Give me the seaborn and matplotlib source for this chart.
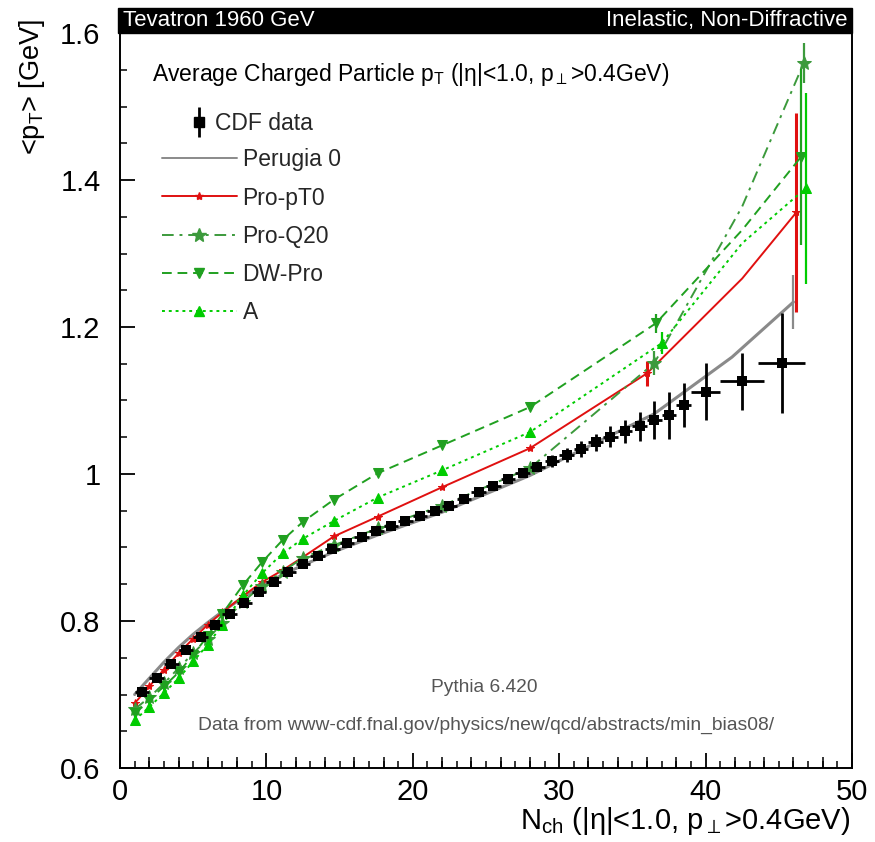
import numpy as np
import matplotlib
matplotlib.use("Agg")
import matplotlib.pyplot as plt
import seaborn as sns
from matplotlib.lines import Line2D
from matplotlib.patches import Rectangle
from matplotlib.ticker import MultipleLocator, FixedLocator, FuncFormatter

# ---------------- data ----------------
cdf_x = [1.5, 2.5, 3.5, 4.5, 5.5, 6.5, 7.5, 8.5, 9.5, 10.5, 11.5, 12.5, 13.5, 14.5,
         15.5, 16.5, 17.5, 18.5, 19.5, 20.5, 21.5, 22.5, 23.5, 24.5, 25.5, 26.5,
         27.5, 28.5, 29.5, 30.5, 31.5, 32.5, 33.5, 34.5, 35.5, 36.5, 37.5, 38.5,
         40.0, 42.5, 45.2]
cdf_xerr = [0.5] * 38 + [1.0, 1.5, 1.6]
cdf_y = [0.703, 0.722, 0.741, 0.760, 0.778, 0.795, 0.810, 0.825, 0.839, 0.853,
         0.866, 0.878, 0.888, 0.898, 0.906, 0.914, 0.922, 0.929, 0.936, 0.943,
         0.950, 0.957, 0.966, 0.975, 0.984, 0.993, 1.001, 1.010, 1.018, 1.026,
         1.034, 1.043, 1.051, 1.058, 1.065, 1.073, 1.080, 1.094, 1.112, 1.126, 1.151]
cdf_yerr = [0.004] * 25 + [0.005, 0.005, 0.006, 0.008, 0.009, 0.011, 0.012, 0.014,
                           0.016, 0.020, 0.026, 0.032, 0.030, 0.039, 0.039, 0.068]

perugia_x = [1, 2, 3, 4, 5, 6, 7, 8.4, 9.7, 11.1, 12.5, 14.6, 17.6, 22.0, 28.0, 36.5, 41.8, 46.0]
perugia_y = [0.700, 0.722, 0.744, 0.764, 0.782, 0.798, 0.813, 0.832, 0.848, 0.863,
             0.876, 0.894, 0.917, 0.948, 0.998, 1.082, 1.159, 1.234]
perugia_err = [0] * 17 + [0.037]

propt0_x = [1, 2, 3, 4, 5, 6, 7, 8.4, 9.7, 11.1, 12.5, 14.6, 17.6, 22.0, 28.0, 36.0, 42.5, 46.2]
propt0_y = [0.688, 0.711, 0.734, 0.756, 0.776, 0.795, 0.812, 0.834, 0.853, 0.869,
            0.887, 0.915, 0.942, 0.982, 1.035, 1.137, 1.266, 1.356]
propt0_err = [0] * 15 + [0.017, 0, 0.135]

proq20_x = [1, 2, 3, 4, 5, 6, 7, 8.4, 9.7, 11.1, 12.5, 14.6, 17.6, 22.0, 28.0, 36.5, 42.5, 46.7]
proq20_y = [0.680, 0.696, 0.715, 0.736, 0.756, 0.776, 0.797, 0.826, 0.848, 0.867,
            0.886, 0.903, 0.926, 0.957, 1.008, 1.151, 1.364, 1.559]
proq20_err = [0] * 15 + [0.016, 0, 0.027]

dwpro_x = [1, 2, 3, 4, 5, 6, 7, 8.4, 9.7, 11.1, 12.5, 14.6, 17.6, 22.0, 28.0, 36.6, 42.5, 46.5]
dwpro_y = [0.675, 0.693, 0.711, 0.730, 0.754, 0.780, 0.810, 0.849, 0.880, 0.910,
           0.935, 0.965, 1.001, 1.039, 1.091, 1.205, 1.332, 1.431]
dwpro_err = [0] * 15 + [0.013, 0, 0.12]

a_x = [1, 2, 3, 4, 5, 6, 7, 8.4, 9.7, 11.1, 12.5, 14.6, 17.6, 22.0, 28.0, 37.0, 42.5, 46.85]
a_y = [0.665, 0.683, 0.702, 0.722, 0.745, 0.768, 0.795, 0.835, 0.865, 0.892,
       0.912, 0.936, 0.968, 1.005, 1.057, 1.178, 1.314, 1.389]
a_err = [0] * 15 + [0.015, 0, 0.13]

y_ticks = [0.6, 0.8, 1.0, 1.2, 1.4, 1.6]
y_ticklabels = ["0.6", "0.8", "1", "1.2", "1.4", "1.6"]
x_ticks = [0, 10, 20, 30, 40, 50]

# ---------------- style ----------------
sns.set_theme(style="white")
plt.rcParams["font.family"] = ["Liberation Sans", "DejaVu Sans"]
plt.rcParams["mathtext.fontset"] = "custom"
plt.rcParams["mathtext.rm"] = "Liberation Sans"
plt.rcParams["mathtext.it"] = "Liberation Sans:italic"
plt.rcParams["mathtext.bf"] = "Liberation Sans:bold"

fig = plt.figure(figsize=(8.75, 8.42), dpi=100)
ax = fig.add_axes([120 / 875, 1 - 768 / 842, 732 / 875, 735 / 842])

marker_idx = [0, 1, 2, 3, 4, 5, 6, 7, 8, 9, 10, 11, 12, 13, 14, 15, 17]

series = [
    ("Perugia 0", perugia_x, perugia_y, perugia_err, "#8a8a8a", "-", None, 0, 2.2),
    ("Pro-pT0", propt0_x, propt0_y, propt0_err, "#e01010", "-", "*", 6, 1.4),
    ("Pro-Q20", proq20_x, proq20_y, proq20_err, "#3c9a3c", (0, (6, 3, 1.5, 3)), "*", 10, 1.4),
    ("DW-Pro", dwpro_x, dwpro_y, dwpro_err, "#20a020", (0, (5, 3)), "v", 7, 1.4),
    ("A", a_x, a_y, a_err, "#00cc00", (0, (1.5, 2)), "^", 7, 1.4),
]

handles = []
for name, xs, ys, es, col, ls, mk, ms, lw in series:
    kw = dict(color=col, linestyle=ls, linewidth=lw)
    if mk is not None:
        kw.update(marker=mk, markersize=ms, markevery=marker_idx,
                  markeredgecolor=col, markerfacecolor=col)
    sns.lineplot(x=xs, y=ys, ax=ax, sort=False, estimator=None, **kw)
    ax.errorbar(xs, ys, yerr=es, fmt="none", ecolor=col,
                elinewidth=2.2 if col == "#e01010" else 1.6, capsize=0,
                linestyle="none")
    if mk is None:
        handles.append(Line2D([], [], color=col, linestyle=ls, linewidth=1.4))
    else:
        handles.append(Line2D([], [], color=col, linestyle=ls, linewidth=1.4,
                              marker=mk, markersize=ms, markeredgecolor=col,
                              markerfacecolor=col))

# CDF data
ax.errorbar(cdf_x, cdf_y, xerr=cdf_xerr, yerr=cdf_yerr, fmt="none", ecolor="black",
            elinewidth=2.0, capsize=0, zorder=5)
sns.scatterplot(x=cdf_x, y=cdf_y, ax=ax, marker="s", s=45, color="black",
                edgecolor="black", linewidth=0, zorder=6)

# axes
ax.set_xlim(0, 50)
ax.set_ylim(0.6, 1.6)
ax.xaxis.set_major_locator(FixedLocator(x_ticks))
ax.xaxis.set_minor_locator(MultipleLocator(1))
ax.yaxis.set_major_locator(FixedLocator(y_ticks))
ax.yaxis.set_major_formatter(FuncFormatter(lambda v, p: y_ticklabels[y_ticks.index(round(v, 1))]
                                            if round(v, 1) in y_ticks else ""))
ax.yaxis.set_minor_locator(MultipleLocator(0.05))
ax.tick_params(axis="both", which="major", direction="in", length=11, width=1.3,
               labelsize=21, color="black", labelcolor="black")
ax.tick_params(axis="both", which="minor", direction="in", length=5, width=1.1,
               color="black")
ax.tick_params(axis="x", which="major", pad=7)
ax.tick_params(axis="y", which="major", pad=14)
ax.tick_params(left=True, bottom=True, top=False, right=False, which="both")

# second tier x ticks (every 2 units)
ax2 = ax.twiny()
ax2.set_xlim(ax.get_xlim())
ax2.xaxis.set_ticks_position("bottom")
ax2.set_xticks([v for v in range(2, 50, 2) if v % 10 != 0])
ax2.set_xticklabels([])
ax2.tick_params(axis="x", direction="in", length=8, width=1.1, color="black")
for s in ax2.spines.values():
    s.set_visible(False)
ax2.patch.set_visible(False)

for s in ax.spines.values():
    s.set_visible(True)
    s.set_color("black")
    s.set_linewidth(1.4)

ax.set_xlabel(r"N$_{\rm ch}$ (|η|<1.0, p$_{\perp}$>0.4GeV)", fontsize=21,
              loc="right", color="black")
ax.xaxis.set_label_coords(0.998, -0.05)
ax.xaxis.label.set_va("top")
ax.set_ylabel(r"<p$_{\rm T}$> [GeV]", fontsize=19.5, loc="top", color="black")
ax.yaxis.set_label_coords(-0.100, 1.02)

# header band
ax.add_patch(Rectangle((-0.003, 1.0), 1.003, 0.034, transform=ax.transAxes,
                       clip_on=False, facecolor="black", edgecolor="black", zorder=10))
ax.text(0.004, 1.017, "Tevatron 1960 GeV", transform=ax.transAxes, color="white",
        fontsize=16, ha="left", va="center", zorder=11)
ax.text(0.994, 1.017, "Inelastic, Non-Diffractive", transform=ax.transAxes,
        color="white", fontsize=16, ha="right", va="center", zorder=11)

ax.text(0.044, 0.944, r"Average Charged Particle p$_{\rm T}$ (|η|<1.0, p$_{\perp}$>0.4GeV)",
        transform=ax.transAxes, fontsize=16.5, ha="left", va="center", color="black")

ax.text(0.497, 0.109, "Pythia 6.420", transform=ax.transAxes, fontsize=13.8,
        ha="center", va="center", color="#555555")
ax.text(0.500, 0.058, "Data from www-cdf.fnal.gov/physics/new/qcd/abstracts/min_bias08/",
        transform=ax.transAxes, fontsize=13.9, ha="center", va="center", color="#555555")

# legends
cdf_handle = (Line2D([], [], color="black", marker="|", markersize=22,
                     markeredgewidth=2.0, linestyle="none"),
              Line2D([], [], color="black", marker="s", markersize=7, linestyle="none"))
leg1 = ax.legend([cdf_handle], ["CDF data"], loc="upper left",
                 bbox_to_anchor=(0.095, 0.892), frameon=False, fontsize=16.5,
                 handlelength=0.8, handletextpad=0.3, borderpad=0, borderaxespad=0)
ax.add_artist(leg1)
ax.legend(handles, [s[0] for s in series], loc="upper left",
          bbox_to_anchor=(0.057, 0.843), frameon=False, fontsize=16.5,
          handlelength=3.27, handletextpad=0.26, labelspacing=0.66,
          borderpad=0, borderaxespad=0)

fig.savefig("out.png", dpi=100)
